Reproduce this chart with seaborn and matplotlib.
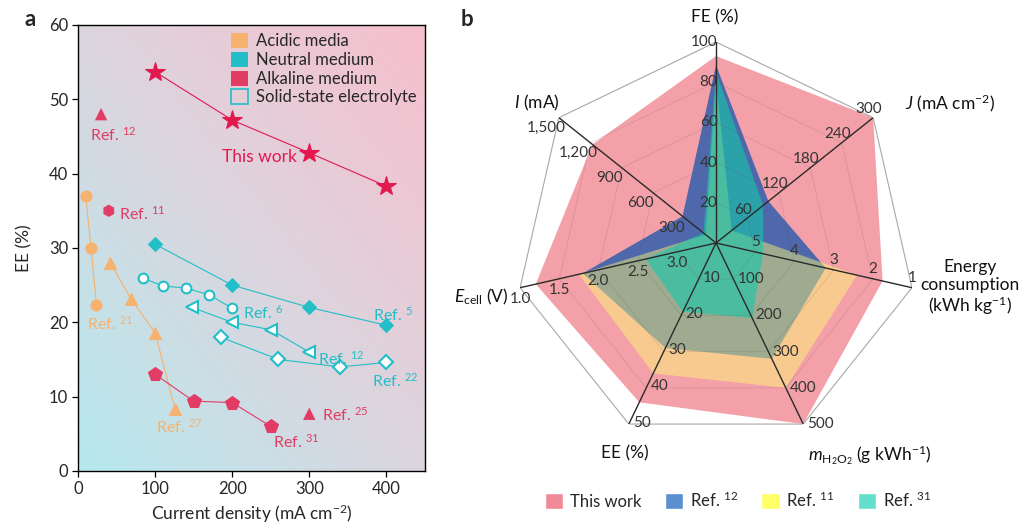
import numpy as np
import matplotlib
matplotlib.use("Agg")
import matplotlib.pyplot as plt
import seaborn as sns
from matplotlib.colors import LinearSegmentedColormap
from matplotlib.patches import Patch

# ---- panel a: EE (%) vs current density (mA cm-2)
this_work_j = [100, 200, 300, 400]
this_work_ee = [53.7, 47.2, 42.8, 38.3]
ref21_j = [10, 17, 24]
ref21_ee = [37, 30, 22.3]
ref27_j = [42, 69, 100, 126]
ref27_ee = [28, 23.1, 18.6, 8.3]
ref5_j = [100, 200, 300, 400]
ref5_ee = [30.5, 25, 22, 19.6]
ref6_j = [85, 110, 140, 170, 200]
ref6_ee = [25.9, 24.9, 24.6, 23.7, 21.9]
ref12s_j = [148, 200, 250, 300]
ref12s_ee = [22, 20, 19, 16]
ref22_j = [185, 260, 340, 400]
ref22_ee = [18, 15, 14, 14.6]
ref31_j = [100, 150, 200, 250]
ref31_ee = [13, 9.4, 9.2, 6]
ref12a_j, ref12a_ee = [30], [48]
ref11a_j, ref11a_ee = [40], [35]
ref25a_j, ref25a_ee = [300], [7.7]

# ---- panel b: radar chart
radar_names = ["FE", "J", "Energy", "m", "EE", "Ecell", "I"]
radar_lo = [0, 0, 6, 0, 0, 3.5, 0]
radar_hi = [100, 300, 1, 500, 50, 1.0, 1500]
radar_ticks = [[20, 40, 60, 80, 100],
               [60, 120, 180, 240, 300],
               [5, 4, 3, 2, 1],
               [100, 200, 300, 400, 500],
               [10, 20, 30, 40, 50],
               [3.0, 2.5, 2.0, 1.5, 1.0],
               [300, 600, 900, 1200, 1500]]
radar_tick_labels = [["20", "40", "60", "80", "100"],
                     ["60", "120", "180", "240", "300"],
                     ["5", "4", "3", "2", "1"],
                     ["100", "200", "300", "400", "500"],
                     ["10", "20", "30", "40", "50"],
                     ["3.0", "2.5", "2.0", "1.5", "1.0"],
                     ["300", "600", "900", "1,200", "1,500"]]
radar_this_work = [93, 300, 1.75, 500, 44, 1.2, 1180]
radar_ref12 = [88.5, 100, 3.2, 320, 29, 1.8, 320]
radar_ref11 = [81, 30, 2.4, 400, 36, 1.75, 100]
radar_ref31 = [85, 90, 4.8, 207, 19, 2.6, 120]

sns.set_theme(style="ticks")
plt.rcParams['font.family'] = ['Lato', 'DejaVu Sans']
plt.rcParams['mathtext.fontset'] = 'custom'
plt.rcParams['mathtext.rm'] = 'Lato'
plt.rcParams['mathtext.it'] = 'Lato:italic'
plt.rcParams['mathtext.bf'] = 'Lato:bold'

ACID = "#f7b26f"
NEUT = "#22bfc8"
ALK = "#e23c64"
STAR = "#e3184f"

fig = plt.figure(figsize=(10.27, 5.26), dpi=100)

# ================= panel a =================
ax = fig.add_axes([0.0759, 0.1046, 0.3379, 0.848])
cmap = LinearSegmentedColormap.from_list("bg", ["#b6e9ef", "#dcd5de", "#f7bfcd"])
gx, gy = np.meshgrid(np.linspace(0, 1, 200), np.linspace(0, 1, 200))
ax.imshow((gx + gy) / 2, extent=[0, 450, 0, 60], origin="lower", aspect="auto",
          cmap=cmap, zorder=0)

lw = 0.8
sns.lineplot(x=this_work_j, y=this_work_ee, ax=ax, color=STAR, lw=lw, marker="*",
             markersize=15, markeredgecolor=STAR, zorder=3)
sns.lineplot(x=ref21_j, y=ref21_ee, ax=ax, color=ACID, lw=lw, marker="o",
             markersize=8, markeredgecolor=ACID, zorder=3)
sns.lineplot(x=ref27_j, y=ref27_ee, ax=ax, color=ACID, lw=lw, marker="^",
             markersize=9, markeredgecolor=ACID, zorder=3)
sns.lineplot(x=ref5_j, y=ref5_ee, ax=ax, color=NEUT, lw=lw, marker="D",
             markersize=7, markeredgecolor=NEUT, zorder=3)
sns.lineplot(x=ref6_j, y=ref6_ee, ax=ax, color=NEUT, lw=lw, marker="o",
             markersize=7, markerfacecolor="white", markeredgecolor=NEUT,
             markeredgewidth=1.5, zorder=3)
sns.lineplot(x=ref12s_j, y=ref12s_ee, ax=ax, color=NEUT, lw=lw, marker="<",
             markersize=8, markerfacecolor="white", markeredgecolor=NEUT,
             markeredgewidth=1.5, zorder=3)
sns.lineplot(x=ref22_j, y=ref22_ee, ax=ax, color=NEUT, lw=lw, marker="D",
             markersize=7, markerfacecolor="white", markeredgecolor=NEUT,
             markeredgewidth=1.5, zorder=3)
sns.lineplot(x=ref31_j, y=ref31_ee, ax=ax, color=ALK, lw=lw, marker="p",
             markersize=10, markeredgecolor=ALK, zorder=3)
for xs, ys, mk in [(ref12a_j, ref12a_ee, "^"), (ref11a_j, ref11a_ee, "h"),
                   (ref25a_j, ref25a_ee, "^")]:
    sns.scatterplot(x=xs, y=ys, ax=ax, color=ALK, marker=mk, s=80,
                    edgecolor="none", zorder=3)

fs_ref = 11.5
notes = [(15, 45.2, "12", ALK), (53, 34.6, "11", ALK), (12, 19.8, "21", ACID),
         (101, 5.9, "27", ACID), (383, 21.0, "5", NEUT), (214, 21.3, "6", NEUT),
         (311, 15.1, "12", NEUT), (381, 12.1, "22", NEUT), (316, 7.5, "25", ALK),
         (253, 3.9, "31", ALK)]
for x, y, n, c in notes:
    ax.text(x, y, "Ref. $^{%s}$" % n, color=c, fontsize=fs_ref, va="center", ha="left")
ax.text(187, 42.2, "This work", color=STAR, fontsize=12.5, va="center", ha="left")

ax.set_xlim(0, 450)
ax.set_ylim(0, 60)
ax.set_xticks([0, 100, 200, 300, 400])
ax.set_yticks([0, 10, 20, 30, 40, 50, 60])
ax.tick_params(labelsize=12, length=4, width=0.9, color="black", pad=3)
for s in ax.spines.values():
    s.set_color("black")
    s.set_linewidth(1.0)
ax.set_xlabel("Current density (mA cm$^{-2}$)", fontsize=12.5, labelpad=4)
ax.set_ylabel("EE (%)", fontsize=12.5, labelpad=12)

handles = [Patch(facecolor=ACID, edgecolor="none", label="Acidic media"),
           Patch(facecolor=NEUT, edgecolor="none", label="Neutral medium"),
           Patch(facecolor=ALK, edgecolor="none", label="Alkaline medium"),
           Patch(facecolor="none", edgecolor=NEUT, lw=1.2, label="Solid-state electrolyte")]
ax.legend(handles=handles, loc="upper right", frameon=False, fontsize=12,
          handlelength=1.0, handleheight=1.0, handletextpad=0.5, labelspacing=0.15,
          borderaxespad=0.3, borderpad=0.2)

fig.text(0.024, 0.962, "a", fontsize=16, fontweight="bold", va="center")
fig.text(0.449, 0.962, "b", fontsize=16, fontweight="bold", va="center")

# ================= panel b =================
rx = fig.add_axes([0.5015, 0.1559, 0.3914, 0.7643], projection="polar")
rx.set_theta_offset(np.pi / 2)
rx.set_theta_direction(-1)
rx.set_ylim(0, 1)
rx.grid(False)
rx.spines["polar"].set_visible(False)
rx.set_xticks([])
rx.set_yticks([])
rx.patch.set_alpha(0)

n_ax = len(radar_names)
theta = np.linspace(0, 2 * np.pi, n_ax, endpoint=False)
theta_c = np.append(theta, theta[0])
lo = np.array(radar_lo, dtype=float)
hi = np.array(radar_hi, dtype=float)


def norm(vals):
    r = (np.array(vals, dtype=float) - lo) / (hi - lo)
    return np.append(r, r[0])


series = [(radar_this_work, "#f07c88", 0.72),
          (radar_ref12, "#325fac", 0.85),
          (radar_ref11, "#ffff70", 0.45),
          (radar_ref31, "#14c8aa", 0.6)]
for vals, col, a in series:
    rx.fill(theta_c, norm(vals), color=col, alpha=a, lw=0, zorder=2)

# heptagon rings
for k in range(5):
    ring = [radar_ticks[i][k] for i in range(n_ax)]
    if k == 4:
        rx.plot(theta_c, norm(ring), color="#a8a8a8", lw=0.8, zorder=3)
    else:
        rx.plot(theta_c, norm(ring), color="#555555", lw=0.6, alpha=0.18, zorder=3)
# spokes
for t in theta:
    rx.plot([t, t], [0, 1], color="#2a2a2a", lw=1.0, zorder=4)

tick_style = [("right", "center", 1, 0), ("center", "bottom", -3, 1),
              ("center", "bottom", 0, 2), ("left", "center", 3, 0),
              ("left", "center", 3, 1), ("center", "top", 0, -3),
              ("center", "center", -9, -7)]
for i in range(n_ax):
    ha, va, dx, dy = tick_style[i]
    rs = (np.array(radar_ticks[i], dtype=float) - lo[i]) / (hi[i] - lo[i])
    for r, lab in zip(rs, radar_tick_labels[i]):
        rx.annotate(lab, (theta[i], r), xytext=(dx, dy), textcoords="offset points",
                    ha=ha, va=va, fontsize=11, color="#333333", zorder=5,
                    annotation_clip=False)

W, H = 1027.0, 526.0
def ftext(px, py, s, **kw):
    fig.text(px / W, 1 - py / H, s, color="#111111", **kw)

ftext(715, 17, "FE (%)", ha="center", va="center", fontsize=12.5)
ftext(905, 103, "$J$ (mA cm$^{-2}$)", ha="left", va="center", fontsize=12.5)
ftext(970, 288, "Energy\nconsumption\n(kWh kg$^{-1}$)", ha="center", va="center",
      linespacing=1.1, fontsize=12.5)
ftext(870, 455, "$m_{\\mathrm{H_2O_2}}$ (g kWh$^{-1}$)", ha="center", va="center",
      fontsize=12.5)
ftext(625, 453, "EE (%)", ha="center", va="center", fontsize=12.5)
ftext(508, 297, "$E_{\\mathrm{cell}}$ (V)", ha="right", va="center", fontsize=12.5)
ftext(537, 103, "$I$ (mA)", ha="center", va="center", fontsize=12.5)

leg_handles = [Patch(facecolor="#f08a96", label="This work"),
               Patch(facecolor="#5b8fd0", label="Ref. $^{12}$"),
               Patch(facecolor="#ffff66", label="Ref. $^{11}$"),
               Patch(facecolor="#62e0cc", label="Ref. $^{31}$")]
fig.legend(handles=leg_handles, loc="center", bbox_to_anchor=(738 / W, 1 - 500 / H),
           ncol=4, frameon=False, fontsize=12, handlelength=1.1, handleheight=1.1,
           handletextpad=0.4, columnspacing=1.4)

fig.savefig("out.png", dpi=100)
